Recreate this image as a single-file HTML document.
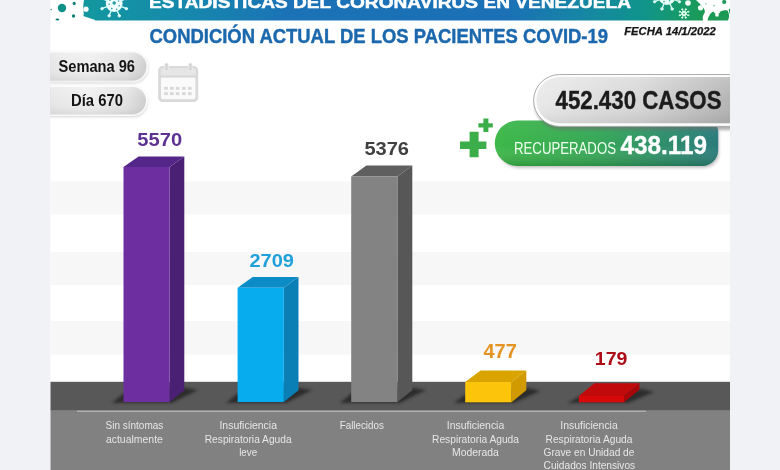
<!DOCTYPE html>
<html lang="es">
<head>
<meta charset="utf-8">
<title>Estadísticas del Coronavirus en Venezuela</title>
<style>
html,body{margin:0;padding:0;background:#f0f2f5;}
body{width:780px;height:470px;overflow:hidden;font-family:"Liberation Sans",sans-serif;}
svg{display:block;}
text{font-family:"Liberation Sans",sans-serif;}
.b{font-weight:bold;}
.lbl{font-size:10.6px;fill:#e6e6e6;text-anchor:middle;}
</style>
</head>
<body>
<svg width="780" height="470" viewBox="0 0 780 470">
<defs>
  <linearGradient id="gBanner" gradientUnits="userSpaceOnUse" x1="82" y1="0" x2="706" y2="0">
    <stop offset="0" stop-color="#12989e"/>
    <stop offset="0.16" stop-color="#1689ac"/>
    <stop offset="0.33" stop-color="#1b72b6"/>
    <stop offset="0.68" stop-color="#1b70b6"/>
    <stop offset="0.80" stop-color="#1686a4"/>
    <stop offset="0.894" stop-color="#10938e"/>
    <stop offset="0.958" stop-color="#179a6a"/>
    <stop offset="1" stop-color="#1b9a52"/>
  </linearGradient>
  <linearGradient id="gPill" x1="0" y1="0" x2="1" y2="0">
    <stop offset="0" stop-color="#e4e4e4"/>
    <stop offset="0.45" stop-color="#efefef"/>
    <stop offset="0.8" stop-color="#e3e3e3"/>
    <stop offset="1" stop-color="#cdcdcd"/>
  </linearGradient>
  <linearGradient id="gCasos" x1="0" y1="0" x2="1" y2="0">
    <stop offset="0" stop-color="#e9e9e9"/>
    <stop offset="0.5" stop-color="#d6d6d6"/>
    <stop offset="1" stop-color="#aeaeae"/>
  </linearGradient>
  <linearGradient id="gRec" x1="0" y1="0" x2="1" y2="0">
    <stop offset="0" stop-color="#3db848"/>
    <stop offset="0.45" stop-color="#36a857"/>
    <stop offset="1" stop-color="#2a7b7c"/>
  </linearGradient>
  <filter id="sh" x="-10%" y="-20%" width="120%" height="150%">
    <feGaussianBlur stdDeviation="1.6"/>
  </filter>
  <filter id="sh2" x="-30%" y="-60%" width="160%" height="220%">
    <feGaussianBlur stdDeviation="1.8"/>
  </filter>
  <clipPath id="page"><rect x="50.5" y="0" width="679.5" height="470"/></clipPath>
  <linearGradient id="gCasosV" x1="0" y1="0" x2="0" y2="1">
    <stop offset="0" stop-color="#ffffff" stop-opacity="0.22"/>
    <stop offset="0.5" stop-color="#ffffff" stop-opacity="0"/>
    <stop offset="1" stop-color="#000000" stop-opacity="0.08"/>
  </linearGradient>
  <linearGradient id="gRecV" x1="0" y1="0" x2="0" y2="1">
    <stop offset="0" stop-color="#ffffff" stop-opacity="0.05"/>
    <stop offset="0.55" stop-color="#ffffff" stop-opacity="0"/>
    <stop offset="1" stop-color="#003300" stop-opacity="0.22"/>
  </linearGradient>
</defs>

<!-- outer margins + page -->
<rect x="0" y="0" width="780" height="470" fill="#f0f2f5"/>
<rect x="50.5" y="0" width="679.5" height="470" fill="#ffffff"/>

<g clip-path="url(#page)">

<!-- faint horizontal bands -->
<rect x="50" y="181.5" width="680" height="33" fill="#f7f7f7"/>
<rect x="50" y="252" width="680" height="33" fill="#f7f7f7"/>
<rect x="50" y="321" width="680" height="33.5" fill="#f7f7f7"/>

<!-- header banner -->
<path d="M84 0 L696 0 C702 6 707 10 704 14 C702 17 703 19 703 20.5 L94 20.5 L83 17 C85 13 82 9 84 0 Z" fill="url(#gBanner)"/>
<!-- left decorations -->
<circle cx="62" cy="8" r="4.2" fill="#109089"/>
<circle cx="74.2" cy="3.4" r="1.6" fill="#137f7c"/>
<circle cx="73.5" cy="16" r="1.7" fill="#137f7c"/>
<ellipse cx="57.4" cy="19.6" rx="1.9" ry="1" fill="#137f7c"/>
<circle cx="51" cy="9.6" r="0.8" fill="#137f7c"/>
<circle cx="86" cy="9.2" r="2.6" fill="#ffffff"/>
<path d="M82 16.5 L95 20.8" stroke="#ffffff" stroke-width="1.6" fill="none"/>
<!-- white virus left -->
<g fill="#f0ffff" stroke="#d6fbfb" stroke-linecap="round">
  <circle cx="114.2" cy="3.6" r="8.4" stroke="none"/>
  <path d="M120.4 6.2L126.4 8.7M116.8 9.8L119.3 15.8M111.6 9.8L109.1 15.8M108.0 6.2L102.0 8.7M108.0 1.0L102.0 -1.5M120.4 1.0L126.4 -1.5" stroke-width="1.4"/>
  <circle cx="126.4" cy="8.7" r="1.2"/><circle cx="119.3" cy="15.8" r="1.2"/><circle cx="109.1" cy="15.8" r="1.2"/><circle cx="102.0" cy="8.7" r="1.2"/><circle cx="102.0" cy="-1.5" r="1.2"/><circle cx="126.4" cy="-1.5" r="1.2"/>
</g>
<g fill="#2d9aa2">
  <circle cx="114.2" cy="3" r="1.8"/><circle cx="109.2" cy="4.2" r="0.8"/><circle cx="119.2" cy="5.8" r="0.8"/><circle cx="111.8" cy="8.6" r="0.8"/><circle cx="116.6" cy="9.2" r="0.7"/><circle cx="118.6" cy="1" r="0.7"/><circle cx="110" cy="0.4" r="0.7"/>
</g>

<!-- right decorations -->
<g fill="#eafff8" stroke="#d2fbf0" stroke-linecap="round">
  <circle cx="667" cy="-3.4" r="8.4" stroke="none"/>
  <path d="M673.2 -0.8L679.4 1.7M669.6 2.8L672.1 9.0M664.4 2.8L661.9 9.0M660.8 -0.8L654.6 1.7" stroke-width="1.4"/>
  <circle cx="679.4" cy="1.7" r="1.2"/><circle cx="672.1" cy="9.0" r="1.2"/><circle cx="661.9" cy="9.0" r="1.2"/><circle cx="654.6" cy="1.7" r="1.2"/>
</g>
<circle cx="664" cy="1.6" r="0.8" fill="#3aa79a"/><circle cx="669.5" cy="0.8" r="0.8" fill="#3aa79a"/>
<g fill="#e4fff2" stroke="#d2fbe8" stroke-linecap="round">
  <circle cx="684" cy="13.5" r="2.7" stroke="none"/>
  <path d="M686.0 14.3L688.2 15.3M684.8 15.5L685.8 17.7M683.2 15.5L682.2 17.7M682.0 14.3L679.8 15.3M682.0 12.7L679.8 11.7M683.2 11.5L682.2 9.3M684.8 11.5L685.8 9.3M686.0 12.7L688.2 11.7" stroke-width="0.8"/>
  <circle cx="688.2" cy="15.3" r="0.6"/><circle cx="685.8" cy="17.7" r="0.6"/><circle cx="682.2" cy="17.7" r="0.6"/><circle cx="679.8" cy="15.3" r="0.6"/><circle cx="679.8" cy="11.7" r="0.6"/><circle cx="682.2" cy="9.3" r="0.6"/><circle cx="685.8" cy="9.3" r="0.6"/><circle cx="688.2" cy="11.7" r="0.6"/>
</g>
<circle cx="684" cy="13.5" r="0.9" fill="#59b98c"/>
<circle cx="688" cy="3" r="2.8" fill="#f2fff9"/>
<circle cx="700.5" cy="7.8" r="2.6" fill="#f2fff9"/>
<path d="M707.5 20.5 C708.5 16 710.5 12.5 713.5 11.5 C714.5 14.5 719.5 14.8 720.3 11.5 C723 10.5 726 10 727.5 10.5 C729.5 13.5 729.5 17.5 728 20.5 Z" fill="#1c9a55"/>
<circle cx="717" cy="14.8" r="1.9" fill="#ffffff"/>
<path d="M728.6 9.5 L730 8.5 L730 15 Z" fill="#1c9a55"/>
<circle cx="724.2" cy="2" r="2.1" fill="#1f9a5a"/>
<circle cx="706" cy="3.8" r="0.8" fill="#7fc9a5"/>
<circle cx="714" cy="5.6" r="0.9" fill="#7fc9a5"/>

<!-- title (cut off by top edge) -->
<text class="b" x="149" y="8.1" font-size="17" fill="#ffffff" stroke="#ffffff" stroke-width="0.5" textLength="482" lengthAdjust="spacingAndGlyphs">ESTADÍSTICAS DEL CORONAVIRUS EN VENEZUELA</text>
<!-- subtitle -->
<text class="b" x="149.5" y="42.8" font-size="20.6" fill="#1c68ad" stroke="#1c68ad" stroke-width="0.45" textLength="458.5" lengthAdjust="spacingAndGlyphs">CONDICIÓN ACTUAL DE LOS PACIENTES COVID-19</text>
<!-- date -->
<text class="b" x="624.2" y="34.8" font-size="10.4" font-style="italic" fill="#161616" stroke="#161616" stroke-width="0.25" textLength="91.6" lengthAdjust="spacingAndGlyphs">FECHA 14/1/2022</text>

<!-- Semana / Dia pills -->
<path d="M40 53 L133 53 A14 14 0 0 1 133 83 L40 83 Z" fill="#9a9a9a" opacity="0.55" filter="url(#sh)"/>
<path d="M40 51.5 L132.5 51.5 A15 15 0 0 1 132.5 81.5 L40 81.5 Z" fill="url(#gPill)" stroke="#fafafa" stroke-width="2"/>
<path d="M40 51.5 L132.5 51.5 A15 15 0 0 1 132.5 81.5 L40 81.5 Z" fill="url(#gCasosV)"/>
<path d="M40 88 L133 88 A14 14 0 0 1 133 116.6 L40 116.6 Z" fill="#9a9a9a" opacity="0.55" filter="url(#sh)"/>
<path d="M40 86 L132.5 86 A14.5 14.5 0 0 1 132.5 115 L40 115 Z" fill="url(#gPill)" stroke="#fafafa" stroke-width="2"/>
<path d="M40 86 L132.5 86 A14.5 14.5 0 0 1 132.5 115 L40 115 Z" fill="url(#gCasosV)"/>
<text class="b" x="58.5" y="71.6" font-size="15.8" fill="#141414" textLength="76.5" lengthAdjust="spacingAndGlyphs">Semana 96</text>
<text class="b" x="71" y="106.4" font-size="15.8" fill="#141414" textLength="52" lengthAdjust="spacingAndGlyphs">Día 670</text>

<!-- calendar icon -->
<g>
  <rect x="159.6" y="67.4" width="37.2" height="33.2" rx="3" fill="#fafafa" stroke="#d9d9d9" stroke-width="2.8"/>
  <rect x="160.8" y="68.6" width="34.8" height="8.6" fill="#e6e6e6"/>
  <rect x="159.6" y="75.4" width="37.2" height="2.2" fill="#d9d9d9"/>
  <rect x="164.6" y="63" width="3.8" height="8" rx="1.7" fill="#d6d6d6" stroke="#f4f4f4" stroke-width="0.7"/>
  <rect x="188.4" y="63" width="3.8" height="8" rx="1.7" fill="#d6d6d6" stroke="#f4f4f4" stroke-width="0.7"/>
  <g fill="#d8d8d8">
    <rect x="164.2" y="86.9" width="3.6" height="2.9"/><rect x="170.0" y="86.9" width="3.6" height="2.9"/><rect x="175.8" y="86.9" width="3.6" height="2.9"/><rect x="182.0" y="86.9" width="3.6" height="2.9"/><rect x="188.0" y="86.9" width="3.6" height="2.9"/>
    <rect x="164.2" y="92.2" width="3.6" height="2.9"/><rect x="170.0" y="92.2" width="3.6" height="2.9"/><rect x="175.8" y="92.2" width="3.6" height="2.9"/><rect x="182.0" y="92.2" width="3.6" height="2.9"/><rect x="188.0" y="92.2" width="3.6" height="2.9"/>
  </g>
</g>

<!-- recuperados pill -->
<path d="M519 124 L707 124 A10 10 0 0 1 719 134 L719 153 A15 15 0 0 1 704 168 L519 168 A22 22 0 0 1 519 124 Z" fill="#7a7a7a" opacity="0.45" filter="url(#sh)"/>
<path d="M517.6 120.4 L706 120.4 A12 12 0 0 1 718.2 132.4 L718.2 150 A16 16 0 0 1 702.2 166 L517.6 166 A22.8 22.8 0 0 1 517.6 120.4 Z" fill="url(#gRec)"/>
<path d="M517.6 120.4 L706 120.4 A12 12 0 0 1 718.2 132.4 L718.2 150 A16 16 0 0 1 702.2 166 L517.6 166 A22.8 22.8 0 0 1 517.6 120.4 Z" fill="url(#gRecV)"/>
<text x="514" y="153.8" font-size="15.6" fill="#f0fff0" textLength="102" lengthAdjust="spacingAndGlyphs">RECUPERADOS</text>
<text class="b" x="620.5" y="154.3" font-size="25.2" fill="#ffffff" stroke="#ffffff" stroke-width="0.3" textLength="86.5" lengthAdjust="spacingAndGlyphs">438.119</text>

<!-- casos pill -->
<path d="M561 77.5 L745 77.5 L745 130 L561 130 A26.25 26.25 0 0 1 561 77.5 Z" fill="#6e6e6e" opacity="0.55" filter="url(#sh)"/>
<path d="M559.6 74.5 L745 74.5 L745 126.4 L559.6 126.4 A25.95 25.95 0 0 1 559.6 74.5 Z" fill="#fcfcfc" stroke="#a4a4a4" stroke-width="0.9"/>
<path d="M559.6 77 L745 77 L745 123.2 L559.6 123.2 A23.1 23.1 0 0 1 559.6 77 Z" fill="url(#gCasos)"/>
<path d="M559.6 77 L745 77 L745 123.2 L559.6 123.2 A23.1 23.1 0 0 1 559.6 77 Z" fill="url(#gCasosV)"/>
<text class="b" x="555.5" y="108.5" font-size="25.2" fill="#1c1c1c" stroke="#1c1c1c" stroke-width="0.4" textLength="166" lengthAdjust="spacingAndGlyphs">452.430 CASOS</text>

<!-- plus icons -->
<path d="M469.6 131.8 h9 v9.6 h7.8 v7.6 h-7.8 v8.3 h-9 v-8.3 h-9.6 v-7.6 h9.6 Z" fill="#3cae49"/>
<path d="M483.4 118.6 h5 v4.7 h4.4 v4.1 h-4.4 v4.7 h-5 v-4.7 h-5 v-4.1 h5 Z" fill="#3cae49"/>

<!-- floor -->
<rect x="50" y="381.8" width="680" height="29" fill="#585858"/>
<rect x="50" y="410.6" width="680" height="60" fill="#818181"/>
<rect x="77" y="410.7" width="569" height="1.2" fill="#b4b4b4"/>

<!-- bar shadows on floor -->
<g fill="#202020" opacity="0.8" filter="url(#sh2)">
  <path d="M112 403 L124 393 L186 388 L198 390 L172 403 Z"/>
  <path d="M226 403 L238 393 L300 388 L312 390 L286 403 Z"/>
  <path d="M340 403 L352 393 L414 388 L426 390 L400 403 Z"/>
  <path d="M454 403 L466 394 L528 388 L540 391 L514 403 Z"/>
  <path d="M568 403 L580 396 L642 389 L654 392 L628 403 Z"/>
</g>

<!-- bars -->
<!-- purple -->
<path d="M123.5 167 L138.5 156.4 L184.3 156.4 L169.6 167 Z" fill="#55268a"/>
<path d="M169.6 167 L184.3 156.4 L184.3 390.3 L169.6 402 Z" fill="#4a2075"/>
<rect x="123.5" y="167" width="46.1" height="235" fill="#6d2fa0"/>
<!-- blue -->
<path d="M237.6 287.8 L252.7 277 L298.5 277 L283.8 287.8 Z" fill="#0c8cc6"/>
<path d="M283.8 287.8 L298.5 277 L298.5 390.3 L283.8 402 Z" fill="#0a7fb6"/>
<rect x="237.6" y="287.8" width="46.2" height="114.2" fill="#06acee"/>
<!-- gray -->
<path d="M351.2 176.5 L366.4 165.4 L412.3 165.4 L397.4 176.5 Z" fill="#5f5f5f"/>
<path d="M397.4 176.5 L412.3 165.4 L412.3 390.3 L397.4 402 Z" fill="#575757"/>
<rect x="351.2" y="176.5" width="46.2" height="225.5" fill="#838383"/>
<!-- yellow -->
<path d="M465.2 382 L480.6 370.6 L526.3 370.6 L511.6 382 Z" fill="#d9a300"/>
<path d="M511.6 382 L526.3 370.6 L526.3 390.3 L511.6 402.3 Z" fill="#d09a00"/>
<rect x="465.2" y="382" width="46.4" height="20.3" fill="#fcc40a"/>
<!-- red -->
<path d="M578.8 396 L594.4 383.2 L639.5 383.2 L624.2 396 Z" fill="#c10a0c"/>
<path d="M624.2 396 L639.5 383.2 L639.5 389.6 L624.2 402.3 Z" fill="#a90607"/>
<rect x="578.8" y="396" width="45.4" height="6.3" fill="#d60a0a"/>

<!-- bar numbers -->
<text class="b" x="137.3" y="146.4" font-size="19.2" fill="#5d3291" textLength="44.8" lengthAdjust="spacingAndGlyphs">5570</text>
<text class="b" x="249.5" y="267" font-size="19.2" fill="#20a0d8" textLength="44.4" lengthAdjust="spacingAndGlyphs">2709</text>
<text class="b" x="364.4" y="155.1" font-size="19.2" fill="#404040" textLength="44.6" lengthAdjust="spacingAndGlyphs">5376</text>
<text class="b" x="483.5" y="358.1" font-size="20" fill="#e39422" textLength="33.2" lengthAdjust="spacingAndGlyphs">477</text>
<text class="b" x="594.8" y="364.6" font-size="19.2" fill="#ad0d18" textLength="32.6" lengthAdjust="spacingAndGlyphs">179</text>

<!-- labels -->
<g class="lbl">
  <text x="134.4" y="428.8" textLength="57.8" lengthAdjust="spacingAndGlyphs">Sin síntomas</text>
  <text x="134.4" y="442.5" textLength="57" lengthAdjust="spacingAndGlyphs">actualmente</text>

  <text x="248.2" y="428.8" textLength="57.5" lengthAdjust="spacingAndGlyphs">Insuficiencia</text>
  <text x="248.2" y="442.5" textLength="87" lengthAdjust="spacingAndGlyphs">Respiratoria Aguda</text>
  <text x="248.2" y="455.8" textLength="18" lengthAdjust="spacingAndGlyphs">leve</text>

  <text x="361.8" y="428.8" textLength="44.2" lengthAdjust="spacingAndGlyphs">Fallecidos</text>

  <text x="475.5" y="428.8" textLength="57.5" lengthAdjust="spacingAndGlyphs">Insuficiencia</text>
  <text x="475.5" y="442.5" textLength="87" lengthAdjust="spacingAndGlyphs">Respiratoria Aguda</text>
  <text x="475.5" y="455.8" textLength="46.8" lengthAdjust="spacingAndGlyphs">Moderada</text>

  <text x="589" y="428.8" textLength="57.5" lengthAdjust="spacingAndGlyphs">Insuficiencia</text>
  <text x="589" y="442.5" textLength="87" lengthAdjust="spacingAndGlyphs">Respiratoria Aguda</text>
  <text x="589" y="455.8" textLength="90.8" lengthAdjust="spacingAndGlyphs">Grave en Unidad de</text>
  <text x="589.4" y="469.2" textLength="91.6" lengthAdjust="spacingAndGlyphs">Cuidados Intensivos</text>
</g>

</g>
</svg>
</body>
</html>
